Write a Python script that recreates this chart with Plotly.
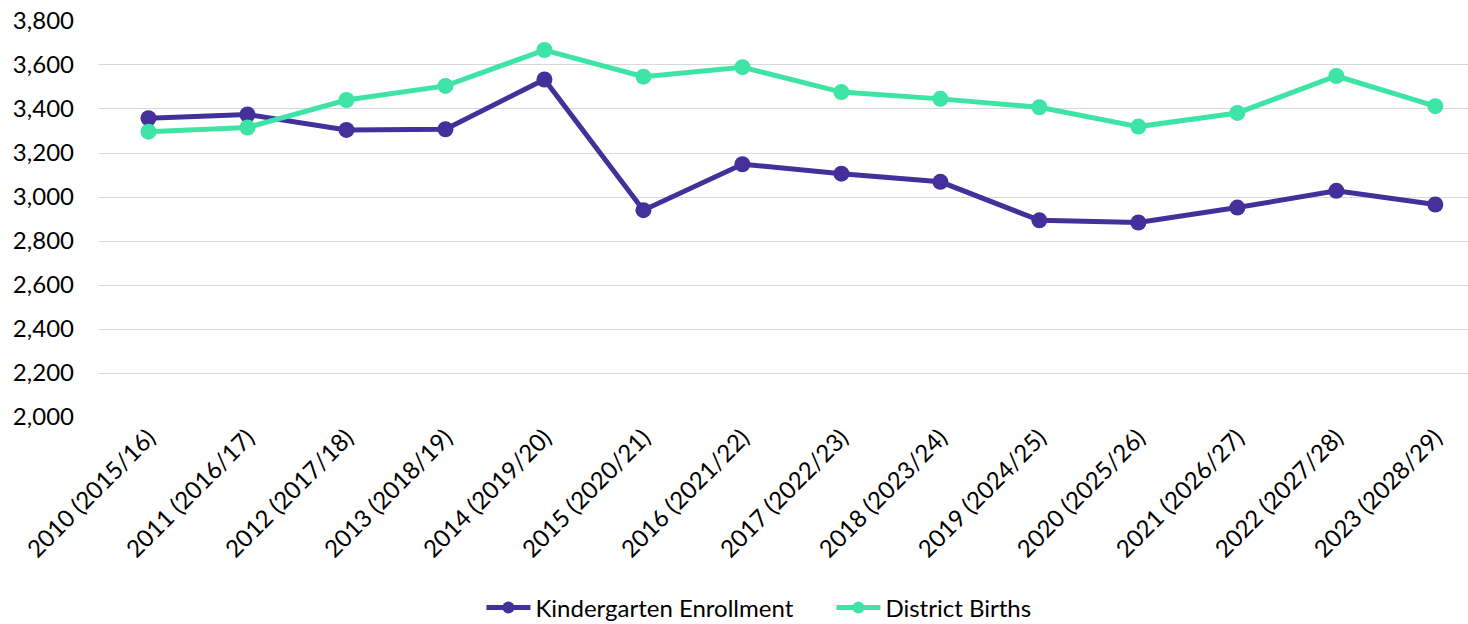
import plotly.graph_objects as go

categories = ["2010 (2015/16)", "2011 (2016/17)", "2012 (2017/18)", "2013 (2018/19)",
              "2014 (2019/20)", "2015 (2020/21)", "2016 (2021/22)", "2017 (2022/23)",
              "2018 (2023/24)", "2019 (2024/25)", "2020 (2025/26)", "2021 (2026/27)",
              "2022 (2027/28)", "2023 (2028/29)"]
kindergarten = [3358, 3375, 3305, 3308, 3534, 2940, 3149, 3106, 3069, 2894, 2884, 2952, 3028, 2966]
births = [3297, 3316, 3441, 3505, 3668, 3547, 3590, 3477, 3446, 3408, 3320, 3382, 3550, 3413]
y_ticks = [2000, 2200, 2400, 2600, 2800, 3000, 3200, 3400, 3600, 3800]
series_names = ["Kindergarten Enrollment", "District Births"]

PURPLE = "#44309A"
GREEN = "#3EE3A6"
FONT = "Lato"
FS = 24

xs = list(range(len(categories)))
fig = go.Figure()
for name, vals, col in [(series_names[0], kindergarten, PURPLE), (series_names[1], births, GREEN)]:
    fig.add_trace(go.Scatter(x=xs, y=vals, name=name, showlegend=False,
                             mode="lines+markers", line=dict(color=col, width=5),
                             marker=dict(color=col, size=16), cliponaxis=False))
for name, col in [(series_names[0], PURPLE), (series_names[1], GREEN)]:
    fig.add_trace(go.Scatter(x=[None], y=[None], name=name, mode="lines+markers",
                             line=dict(color=col, width=5), marker=dict(color=col, size=12)))

# figure is taller than the 624px window so the legend never pushes the margins;
# the page overflow is hidden
fig.update_layout(
    width=1468, height=660,
    margin=dict(l=99, r=0, t=20, b=242),
    paper_bgcolor="white", plot_bgcolor="white",
    font=dict(family=FONT, size=FS, color="#000000"),
    showlegend=True,
    legend=dict(orientation="h", x=0.535, xanchor="center", y=-0.477, yanchor="middle",
                font=dict(family=FONT, size=FS, color="#000000"), itemwidth=44,
                entrywidth=291, traceorder="normal"),
    xaxis=dict(tickmode="array", tickvals=xs, ticktext=categories,
               range=[-0.5, 13.33], tickangle=-45, showgrid=False, zeroline=False,
               showline=False, ticks="", automargin=False, tickfont=dict(family=FONT, size=FS)),
    yaxis=dict(range=[1995.5, 3804.5], tickvals=y_ticks, tickformat=",d",
               showgrid=True, gridcolor="#D9D9D9", gridwidth=1.3, zeroline=False,
               showline=False, ticks="", ticklabelstandoff=24, automargin=False,
               ticklabeloverflow="allow", tickfont=dict(family=FONT, size=FS)),
)

fig.write_html("out.html", config={"displayModeBar": False},
               post_script="document.body.style.margin='0';document.body.style.overflow='hidden';"
                           "document.documentElement.style.overflow='hidden';")
